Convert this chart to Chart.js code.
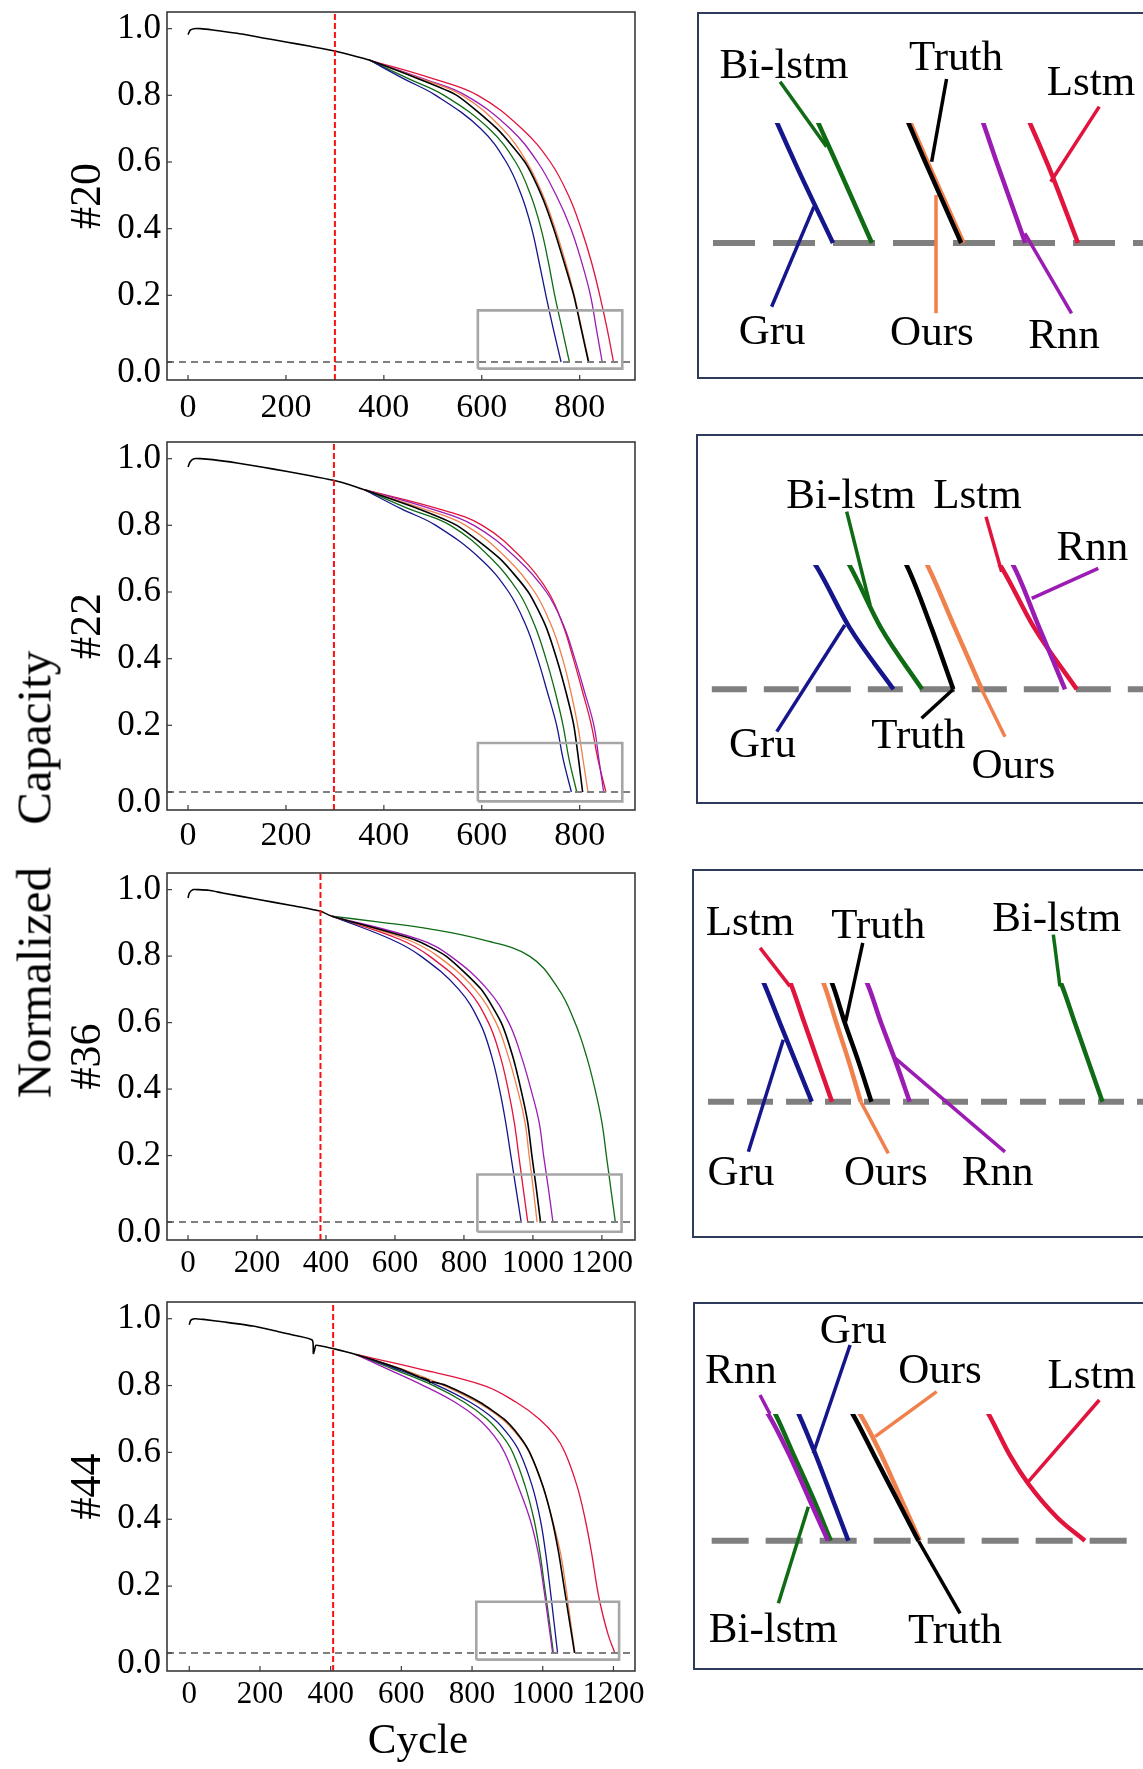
<!DOCTYPE html>
<html><head><meta charset="utf-8">
<script src="https://cdn.jsdelivr.net/npm/chart.js@4.4.1/dist/chart.umd.min.js"></script>
<style>
html,body{margin:0;padding:0;background:#fff;}
body{width:1143px;height:1769px;position:relative;overflow:hidden;}
canvas{position:absolute;}
.box{position:absolute;border:2.5px solid #2e3b5a;box-sizing:border-box;pointer-events:none;}
.txt{position:absolute;white-space:nowrap;color:#000;font-family:'Liberation Serif','Times New Roman',serif;text-align:center;}
</style></head><body>
<canvas id="m20" width="660" height="430" style="left:0;top:0"></canvas>
<canvas id="m22" width="660" height="430" style="left:0;top:430px"></canvas>
<canvas id="m36" width="660" height="430" style="left:0;top:860px"></canvas>
<canvas id="m44" width="660" height="479" style="left:0;top:1290px"></canvas>
<canvas id="i20" width="445" height="365" style="left:698px;top:13px"></canvas>
<canvas id="i22" width="446" height="368" style="left:697px;top:435px"></canvas>
<canvas id="i36" width="450" height="367" style="left:693px;top:870px"></canvas>
<canvas id="i44" width="449" height="366" style="left:694px;top:1303px"></canvas>
<div class="box" style="left:697px;top:12px;width:470px;height:367px"></div>
<div class="box" style="left:696px;top:434px;width:470px;height:370px"></div>
<div class="box" style="left:692px;top:869px;width:470px;height:369px"></div>
<div class="box" style="left:693px;top:1302px;width:470px;height:368px"></div>
<div class="txt" style="left:-216px;top:850px;width:500px;height:49px;line-height:49px;font-size:49px;word-spacing:30px;transform:rotate(-90deg);">Normalized Capacity</div>
<div class="txt" style="left:318px;top:1717px;width:200px;height:43px;line-height:43px;font-size:43px;">Cycle</div>
<script>
// ---------------- data ----------------
const SERIES = ['Truth','Gru','Bi-lstm','Ours','Rnn','Lstm'];
const yTicks = [0, 0.2, 0.4, 0.6, 0.8, 1.0];
const xTicks900 = [0, 200, 400, 600, 800];
const xTicks1200 = [0, 200, 400, 600, 800, 1000, 1200];
const threshold = 0.0;
const trainEnd = {b20:300, b22:298, b36:384, b44:407};

// #20
const c20_truth_x = [0,4,12,25,50,100,150,200,250,300,350,370,470,549,631,688,722,747,768,788,803,818];
const c20_truth_y = [0.982,0.995,1.0,1.0,0.996,0.986,0.973,0.960,0.947,0.933,0.914,0.906,0.850,0.800,0.700,0.600,0.500,0.400,0.300,0.200,0.100,0.0];
const c20_pred_y  = [0.906,0.850,0.800,0.700,0.600,0.500,0.400,0.300,0.200,0.100,0.0];
const c20_gru_x   = [370,440,506,598,650,681,702,717,731,746,762];
const c20_bi_x    = [370,450,523,615,669,700,721,736,749,764,779];
const c20_ours_x  = [370,475,560,642,692,725,750,771,789,804,819];
const c20_rnn_x   = [370,480,567,658,714,752,782,804,822,834,846];
const c20_lstm_x  = [370,500,592,682,740,777,803,824,841,856,869];

// #22
const c22_truth_x = [0,4,12,25,50,100,150,200,250,297,330,360,470,549,637,695,730,753,772,788,797.5,806];
const c22_truth_y = [0.975,0.990,1.0,1.0,0.997,0.987,0.975,0.962,0.949,0.935,0.922,0.907,0.850,0.800,0.700,0.600,0.500,0.400,0.300,0.200,0.100,0.0];
const c22_pred_y  = [0.907,0.850,0.800,0.700,0.600,0.500,0.400,0.300,0.200,0.100,0.0];
const c22_gru_x   = [360,435,506,597,655,690,714,734,753,766,783];
const c22_bi_x    = [360,450,536,620,675,708,731,750,766,778,794];
const c22_ours_x  = [360,480,567,652,708,742,765,782,796,806.5,817];
const c22_rnn_x   = [360,495,584,672,732,767,790,810,829,839,849];
const c22_lstm_x  = [360,510,601,683,736,766,787,806,824,837,853.5];

// #36
const c36_truth_x = [0,4,15,30,60,100,200,300,384,417,655,748,850,908,941,965,985,997,1010,1022];
const c36_truth_y = [0.975,0.990,1.0,1.0,0.998,0.990,0.971,0.952,0.935,0.920,0.850,0.800,0.700,0.600,0.500,0.400,0.300,0.200,0.100,0.0];
const c36_pred_y  = [0.920,0.850,0.800,0.700,0.600,0.500,0.400,0.300,0.200,0.100,0.0];
const c36_gru_x   = [417,590,675,785,846,880,903,921,936,951,966];
const c36_lstm_x  = [417,615,700,810,871,905,928,946,959,972,985];
const c36_ours_x  = [417,635,724,832,893,928,955,977,989,1001,1012];
const c36_rnn_x   = [417,670,761,868,930,966,994,1018,1031,1045,1058];
const c36_bi_x    = [417,550,700,850,990,1075,1122,1155,1180,1200,1213,1226,1239];
const c36_bi_y    = [0.920,0.903,0.882,0.850,0.800,0.700,0.600,0.500,0.400,0.300,0.200,0.100,0.0];

// #44
const c44_truth_x = [0,4,15,40,100,180,250,300,348,351,354,358,370,409,440,471,520,595,650,678,681,688,727,822,890,933,963,1000,1026,1045,1060,1075,1090];
const c44_truth_y = [0.982,0.995,1.0,0.998,0.990,0.978,0.962,0.950,0.936,0.896,0.905,0.920,0.919,0.910,0.902,0.893,0.877,0.850,0.826,0.8155,0.8095,0.811,0.800,0.750,0.700,0.650,0.600,0.500,0.400,0.300,0.200,0.100,0.0];
const c44_pred_y  = [0.893,0.850,0.800,0.750,0.700,0.650,0.600,0.500,0.400,0.300,0.200,0.100,0.0];
const c44_rnn_x   = [471,560,662,752,818,862,892,930,964,987,1002,1015,1028];
const c44_bi_x    = [471,575,691,778,842,885,915,950,975,992,1005,1018,1030];
const c44_gru_x   = [471,585,703,795,862,905,935,970,993,1008,1020,1031,1042];
const c44_ours_x  = [471,600,721,815,885,930,962,1000,1027,1050,1065,1078,1091];
const c44_lstm_x  = [471,650,834,925,990,1035,1063,1097,1120,1138,1153,1165,1185,1204];
const c44_lstm_y  = [0.893,0.850,0.800,0.750,0.700,0.650,0.600,0.500,0.400,0.300,0.200,0.136,0.055,0.0];

// zoom boxes drawn on the main charts: [xMin, xMax, yMin, yMax]
const zoomBox20 = [592, 887, -0.020, 0.155];
const zoomBox22 = [592, 887, -0.028, 0.147];
const zoomBox36 = [839, 1257, -0.029, 0.143];
const zoomBox44 = [812, 1216, -0.020, 0.153];

// inset windows: [xMin, xMax, yMin, yMax], threshold start
const insetWin20 = [703.05, 897.4, -0.1744, 0.155];
const insetWin22 = [707.4, 879.0, -0.183, 0.200];
const insetWin36 = [854.5, 1277.1, -0.342, 0.300];
const insetWin44 = [936.3, 1243.8, -0.3038, 0.300];
const insetThrStart = {b20:709.6, b22:713.1, b36:868.6, b44:948.4};

// inset labels: [text, x, y(baseline)]
const labels20 = [['Bi-lstm',740.6,0.2132],['Truth',815.7,0.2235],['Lstm',874.7,0.1912],['Gru',735.4,-0.1305],['Ours',805.2,-0.1318],['Rnn',862.9,-0.1357]];
const labels22 = [['Bi-lstm',766.6,0.2912],['Lstm',815.3,0.2912],['Rnn',859.5,0.208],['Gru',732.6,-0.1094],['Truth',792.5,-0.0949],['Ours',829.1,-0.1432]];
const labels36 = [['Lstm',908,0.4223],['Truth',1028.5,0.414],['Bi-lstm',1196,0.4307],['Gru',899.6,-0.211],['Ours',1035.6,-0.211],['Rnn',1140.5,-0.211]];
const labels44 = [['Gru',1045.4,0.4674],['Rnn',968.4,0.3741],['Ours',1104.8,0.3741],['Lstm',1208.7,0.3609],['Bi-lstm',990.6,-0.2392],['Truth',1115.1,-0.243]];
// inset leader lines: [series, x1, y1, x2, y2]
const leaders20 = [['Bi-lstm',738.9,0.2084,759.2,0.1244],['Truth',811.6,0.2119,805.1,0.105],['Lstm',878.3,0.1761,857.1,0.0792],['Gru',753.7,0.0469,735.2,-0.0823],['Ours',807,0.062,807,-0.0908],['Rnn',845.8,0.0125,866.2,-0.0908]];
const leaders22 = [['Gru',764.3,0.1035,738.1,-0.0682],['Bi-lstm',765,0.2858,774,0.1356],['Truth',806,0,793.8,-0.0467],['Ours',816.9,0,825.9,-0.0763],['Lstm',818.6,0.2777,824.6,0.1892],['Rnn',861.8,0.1947,836.2,0.1464]];
const leaders36 = [['Lstm',917.5,0.3887,945.6,0.2914],['Truth',1013.9,0.4013,997.9,0.2027],['Bi-lstm',1192.9,0.4223,1199.1,0.2914],['Gru',939.3,0.1563,906.5,-0.1267],['Ours',1012,0,1037.9,-0.1307],['Rnn',1042.6,0.114,1147.5,-0.1267]];
const leaders44 = [['Rnn',981.5,0.345,988.3,0.3],['Gru',1043.2,0.4634,1018,0.207],['Ours',1102.5,0.3528,1060.3,0.2463],['Lstm',1213.9,0.3332,1165.3,0.1397],['Bi-lstm',1014.6,0.0805,994.1,-0.1482],['Truth',1089.9,0,1118.5,-0.1719]];

// ---------------- styles ----------------
const FONT = "'Liberation Serif','Times New Roman',serif";
const COLORS = {'Truth':'#000000','Gru':'#15158c','Bi-lstm':'#0f6b14','Ours':'#f0804c','Rnn':'#9b1cb3','Lstm':'#e0143c'};
const DRAW_ORDER = {'Truth':0,'Ours':1,'Rnn':2,'Gru':3,'Bi-lstm':4,'Lstm':5};
const pts = (xs, ys) => xs.map((x, i) => ({x: x, y: ys[i]}));

const DATA = {
  b20: {'Truth':[c20_truth_x,c20_truth_y],'Gru':[c20_gru_x,c20_pred_y],'Bi-lstm':[c20_bi_x,c20_pred_y],'Ours':[c20_ours_x,c20_pred_y],'Rnn':[c20_rnn_x,c20_pred_y],'Lstm':[c20_lstm_x,c20_pred_y]},
  b22: {'Truth':[c22_truth_x,c22_truth_y],'Gru':[c22_gru_x,c22_pred_y],'Bi-lstm':[c22_bi_x,c22_pred_y],'Ours':[c22_ours_x,c22_pred_y],'Rnn':[c22_rnn_x,c22_pred_y],'Lstm':[c22_lstm_x,c22_pred_y]},
  b36: {'Truth':[c36_truth_x,c36_truth_y],'Gru':[c36_gru_x,c36_pred_y],'Bi-lstm':[c36_bi_x,c36_bi_y],'Ours':[c36_ours_x,c36_pred_y],'Rnn':[c36_rnn_x,c36_pred_y],'Lstm':[c36_lstm_x,c36_pred_y]},
  b44: {'Truth':[c44_truth_x,c44_truth_y],'Gru':[c44_gru_x,c44_pred_y],'Bi-lstm':[c44_bi_x,c44_pred_y],'Ours':[c44_ours_x,c44_pred_y],'Rnn':[c44_rnn_x,c44_pred_y],'Lstm':[c44_lstm_x,c44_lstm_y]}
};

const framePlugin = {
  id: 'frame',
  afterDatasetsDraw(chart) {
    const {ctx, chartArea: a, scales: {x, y}} = chart;
    ctx.save();
    ctx.strokeStyle = '#3a3a3a';
    ctx.lineWidth = 1.6;
    ctx.strokeRect(a.left, a.top, a.right - a.left, a.bottom - a.top);
    ctx.lineWidth = 1.2;
    x.ticks.forEach(t => { const p = x.getPixelForValue(t.value); ctx.beginPath(); ctx.moveTo(p, a.bottom); ctx.lineTo(p, a.bottom - 5); ctx.stroke(); });
    y.ticks.forEach(t => { const p = y.getPixelForValue(t.value); ctx.beginPath(); ctx.moveTo(a.left, p); ctx.lineTo(a.left + 5, p); ctx.stroke(); });
    ctx.restore();
  }
};

const labelPlugin = {
  id: 'insetLabels',
  afterDatasetsDraw(chart, args, opts) {
    const {ctx, scales: {x, y}} = chart;
    ctx.save();
    ctx.font = opts.size + 'px ' + FONT;
    ctx.fillStyle = '#000';
    ctx.textAlign = 'center';
    ctx.textBaseline = 'alphabetic';
    opts.items.forEach(it => ctx.fillText(it[0], x.getPixelForValue(it[1]), y.getPixelForValue(it[2])));
    ctx.restore();
  }
};

function mainChart(c) {
  const d = DATA[c.key];
  const b = c.box;
  const ds = [];
  ds.push({data: pts([b[0], b[1], b[1], b[0], b[0]], [b[2], b[2], b[3], b[3], b[2]]), borderColor: '#a6a6a6', borderWidth: 2.6, pointRadius: 0, tension: 0, order: -3});
  ds.push({data: pts([trainEnd[c.key], trainEnd[c.key]], [c.yMin, c.yMax]), borderColor: '#ff1010', borderWidth: 2, borderDash: [6, 3], pointRadius: 0, order: -2});
  ds.push({data: pts([c.xMin, c.xMax], [threshold, threshold]), borderColor: '#7f7f7f', borderWidth: 2, borderDash: [7, 5], pointRadius: 0, order: -1});
  SERIES.forEach(s => ds.push({label: s, data: pts(d[s][0], d[s][1]), borderColor: COLORS[s], borderWidth: s === 'Truth' ? 1.6 : 1.3, pointRadius: 0, tension: s === 'Truth' ? 0.2 : 0.4, order: DRAW_ORDER[s]}));
  return new Chart(document.getElementById(c.id), {
    type: 'line',
    data: {datasets: ds},
    plugins: [framePlugin],
    options: {
      responsive: false, animation: false, events: [],
      layout: {padding: {left: 0, right: 25, top: c.padT, bottom: 0}},
      plugins: {legend: {display: false}, tooltip: {enabled: false}},
      scales: {
        x: {type: 'linear', min: c.xMin, max: c.xMax,
            afterFit(s) { s.height = c.xAxisH; s.paddingLeft = 0; s.paddingRight = 0; },
            afterBuildTicks(s) { s.ticks = c.xTicks.map(v => ({value: v})); },
            grid: {display: false, drawTicks: false}, border: {display: false},
            ticks: {color: '#000', font: {family: FONT, size: c.xFont}, padding: c.xPad, maxRotation: 0, minRotation: 0, autoSkip: false, callback: v => String(v)}},
        y: {type: 'linear', min: c.yMin, max: c.yMax,
            afterFit(s) { s.width = 167; s.paddingTop = 0; s.paddingBottom = 0; },
            afterBuildTicks(s) { s.ticks = yTicks.map(v => ({value: v})); },
            grid: {display: false, drawTicks: false}, border: {display: false},
            ticks: {color: '#000', font: {family: FONT, size: 35, lineHeight: 0.6}, padding: 6, callback: v => v === 0 ? ['', '0.0'] : v.toFixed(1)},
            title: {display: true, text: c.title, color: '#000', font: {family: FONT, size: 44}, padding: {top: 62, bottom: 0}}}
      }
    }
  });
}

function insetChart(c) {
  const d = DATA[c.key];
  const w = c.win;
  const ds = [];
  SERIES.forEach(s => ds.push({data: pts(d[s][0], d[s][1]), borderColor: COLORS[s], borderWidth: 4.5, pointRadius: 0, cubicInterpolationMode: 'monotone', order: DRAW_ORDER[s]}));
  c.leaders.forEach(l => ds.push({data: pts([l[1], l[3]], [l[2], l[4]]), borderColor: COLORS[l[0]], borderWidth: 3.5, pointRadius: 0, clip: false, order: 6}));
  ds.push({data: pts([insetThrStart[c.key], w[1]], [threshold, threshold]), borderColor: '#7f7f7f', borderWidth: 6, borderDash: c.dash, pointRadius: 0, clip: false, order: 20});
  return new Chart(document.getElementById(c.id), {
    type: 'line',
    data: {datasets: ds},
    plugins: [labelPlugin],
    options: {
      responsive: false, animation: false, events: [],
      layout: {padding: {left: 0, right: 0, top: c.padT, bottom: 0}},
      plugins: {legend: {display: false}, tooltip: {enabled: false}, insetLabels: {items: c.labels, size: 43}},
      scales: {
        x: {type: 'linear', display: false, min: w[0], max: w[1]},
        y: {type: 'linear', display: false, min: w[2], max: w[3]}
      }
    }
  });
}

mainChart({id: 'm20', key: 'b20', title: '#20', padT: 12, xAxisH: 50, xPad: 8, xFont: 34, xMin: -43, xMax: 913, yMin: -0.054, yMax: 1.05, xTicks: xTicks900, box: zoomBox20});
mainChart({id: 'm22', key: 'b22', title: '#22', padT: 12, xAxisH: 50, xPad: 6, xFont: 34, xMin: -43, xMax: 913, yMin: -0.054, yMax: 1.05, xTicks: xTicks900, box: zoomBox22});
mainChart({id: 'm36', key: 'b36', title: '#36', padT: 13, xAxisH: 50, xPad: 5, xFont: 31, xMin: -61, xMax: 1296, yMin: -0.054, yMax: 1.05, xTicks: xTicks1200, box: zoomBox36});
mainChart({id: 'm44', key: 'b44', title: '#44', padT: 12, xAxisH: 98, xPad: 5, xFont: 31, xMin: -63, xMax: 1261, yMin: -0.054, yMax: 1.05, xTicks: xTicks1200, box: zoomBox44});

insetChart({id: 'i20', key: 'b20', padT: 110, win: insetWin20, labels: labels20, leaders: leaders20, dash: [42, 18]});
insetChart({id: 'i22', key: 'b22', padT: 130, win: insetWin22, labels: labels22, leaders: leaders22, dash: [35, 17]});
insetChart({id: 'i36', key: 'b36', padT: 113, win: insetWin36, labels: labels36, leaders: leaders36, dash: [26, 13]});
insetChart({id: 'i44', key: 'b44', padT: 111, win: insetWin44, labels: labels44, leaders: leaders44, dash: [37, 17]});
</script>
</body></html>
